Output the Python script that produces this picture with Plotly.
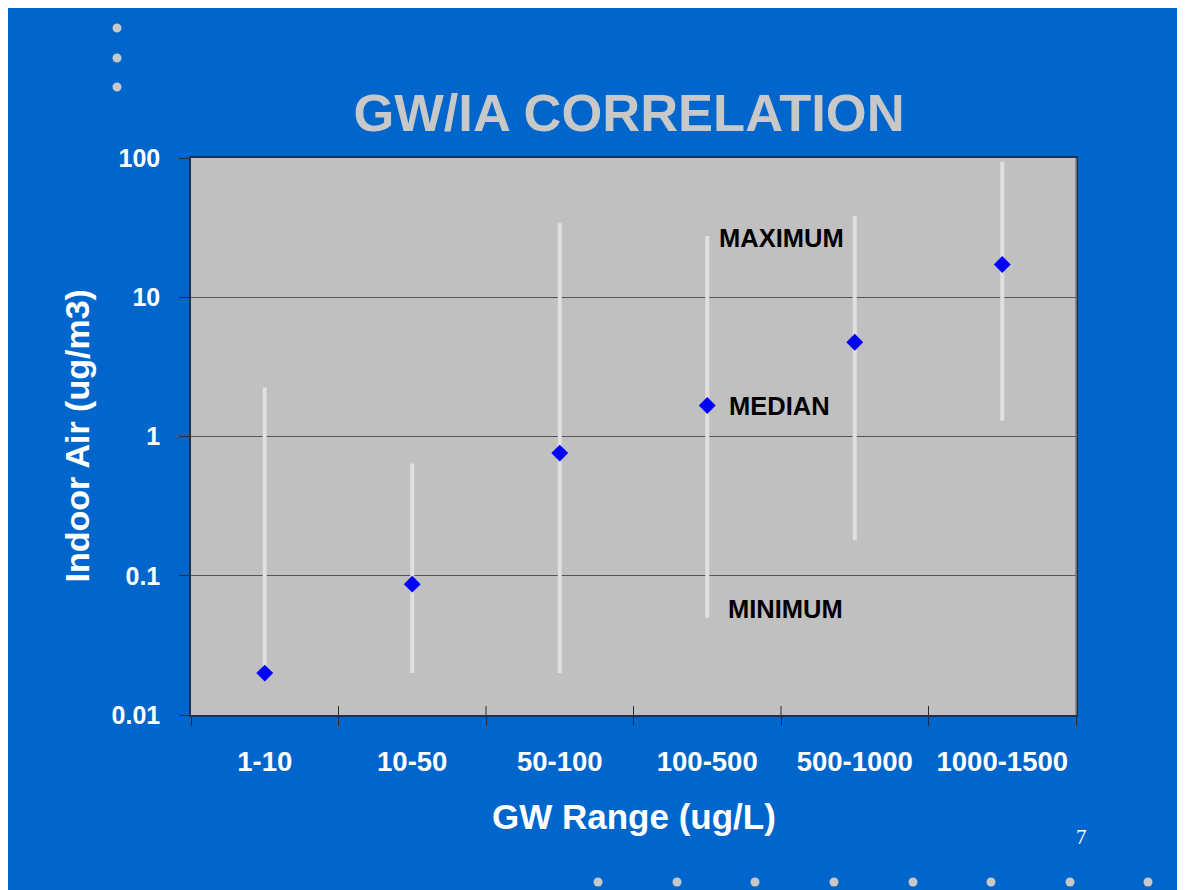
import plotly.graph_objects as go

# ---- data ----
categories = ["1-10", "10-50", "50-100", "100-500", "500-1000", "1000-1500"]
median_vals = [0.02, 0.087, 0.76, 1.67, 4.75, 17.2]
min_vals = [0.02, 0.02, 0.02, 0.05, 0.18, 1.3]
max_vals = [2.25, 0.64, 34.0, 27.5, 38.5, 94.0]
y_tickvals = [0.01, 0.1, 1, 10, 100]
y_ticktext = ["0.01", "0.1", "1", "10", "100"]

W, H = 1193, 890
OFF = 7  # page offset of the figure inside the browser window
L, T = 190 - OFF, 157 - OFF
R = W - (1075 - OFF)
B = H - (714 - OFF)
PW, PH = W - L - R, H - T - B


def px_x(px):
    """screen pixel -> paper x"""
    return (px - OFF - L) / PW


def px_y(py):
    """screen pixel -> paper y"""
    return (H - B - (py - OFF)) / PH


FONT = "Arial, Liberation Sans, sans-serif"
BG = "#0066cc"
DOT = "#c8c8c8"

err_plus = [mx - md for mx, md in zip(max_vals, median_vals)]
err_minus = [md - mn for md, mn in zip(median_vals, min_vals)]

fig = go.Figure()
fig.add_trace(go.Scatter(
    x=categories, y=median_vals, mode="markers",
    marker=dict(symbol="diamond", size=13, color="#0000ff", line=dict(width=0)),
    error_y=dict(type="data", symmetric=False, array=err_plus, arrayminus=err_minus,
                 color="#e0e0e0", thickness=4, width=0),
    showlegend=False, hoverinfo="x+y",
))

shapes = []
# decorative dots
for cy in [27, 57, 86]:
    shapes.append(dict(type="circle", xref="paper", yref="paper", xsizemode="pixel", ysizemode="pixel",
                       xanchor=px_x(116), yanchor=px_y(cy), x0=-4.5, x1=4.5, y0=-4.5, y1=4.5,
                       fillcolor=DOT, line=dict(width=0)))
for cx in [597, 676, 754, 833, 912, 990, 1069, 1147]:
    shapes.append(dict(type="circle", xref="paper", yref="paper", xsizemode="pixel", ysizemode="pixel",
                       xanchor=px_x(cx), yanchor=px_y(881), x0=-4.5, x1=4.5, y0=-4.5, y1=4.5,
                       fillcolor=DOT, line=dict(width=0)))

# inner half of the crossing x ticks at the interior category boundaries
for i in range(len(categories) - 1):
    shapes.append(dict(type="line", xref="x", yref="paper", x0=i + 0.5, x1=i + 0.5,
                       y0=0, y1=9 / PH, line=dict(color="#2a2a3a", width=1)))

# right border of plot area (grey)
shapes.append(dict(type="line", xref="paper", yref="paper", x0=1, x1=1, y0=0, y1=1,
                   line=dict(color="#808080", width=1.5)))

annotations = [
    dict(text="GW Range (ug/L)", xref="paper", yref="paper", x=0.5, y=px_y(815),
         xanchor="center", yanchor="middle", showarrow=False,
         font=dict(family=FONT, size=35, color="white", weight="bold")),
    dict(text="Indoor Air (ug/m3)", xref="paper", yref="paper", x=px_x(75), y=0.5,
         xanchor="center", yanchor="middle", showarrow=False, textangle=-90,
         font=dict(family=FONT, size=34, color="white", weight="bold")),
    dict(text="MAXIMUM", xref="paper", yref="paper", x=px_x(716), y=px_y(237),
         xanchor="left", yanchor="middle", showarrow=False,
         font=dict(family=FONT, size=25.5, color="black", weight="bold")),
    dict(text="MEDIAN", xref="paper", yref="paper", x=px_x(726), y=px_y(405),
         xanchor="left", yanchor="middle", showarrow=False,
         font=dict(family=FONT, size=25.5, color="black", weight="bold")),
    dict(text="MINIMUM", xref="paper", yref="paper", x=px_x(725), y=px_y(608),
         xanchor="left", yanchor="middle", showarrow=False,
         font=dict(family=FONT, size=25.5, color="black", weight="bold")),
    dict(text="7", xref="paper", yref="paper", x=px_x(1080), y=px_y(836),
         xanchor="center", yanchor="middle", showarrow=False,
         font=dict(family="Liberation Serif, Times New Roman, serif", size=21, color="white")),
]

fig.update_layout(
    width=W, height=H,
    margin=dict(l=L, r=R, t=T, b=B, pad=0),
    paper_bgcolor=BG, plot_bgcolor="#c0c0c0",
    title=dict(text="GW/IA CORRELATION", x=(628 - OFF) / W, xanchor="center", xref="container",
               y=1 - (112 - OFF) / H, yanchor="middle", yref="container",
               font=dict(family=FONT, size=52.5, color="#c8c8c8", weight="bold")),
    shapes=shapes, annotations=annotations,
    xaxis=dict(type="category", categoryorder="array", categoryarray=categories,
               range=[-0.5, len(categories) - 0.5], tickson="boundaries",
               ticks="outside", ticklen=9, tickcolor="#2a2a3a", tickwidth=1,
               showgrid=False, showline=True, linecolor="#1f3050", linewidth=1.5, mirror=True,
               tickfont=dict(family=FONT, size=27.5, color="white", weight="bold"),
               ticklabelstandoff=21, fixedrange=True),
    yaxis=dict(type="log", range=[-2, 2], tickvals=y_tickvals, ticktext=y_ticktext,
               ticks="outside", ticklen=10, tickcolor="#2a2a3a", tickwidth=1,
               showgrid=True, gridcolor="#555555", gridwidth=1,
               showline=True, linecolor="#1f3050", linewidth=1.5, mirror=True,
               tickfont=dict(family=FONT, size=25, color="white", weight="bold"),
               ticklabelstandoff=14, fixedrange=True),
)

fig.write_html("out.html")
